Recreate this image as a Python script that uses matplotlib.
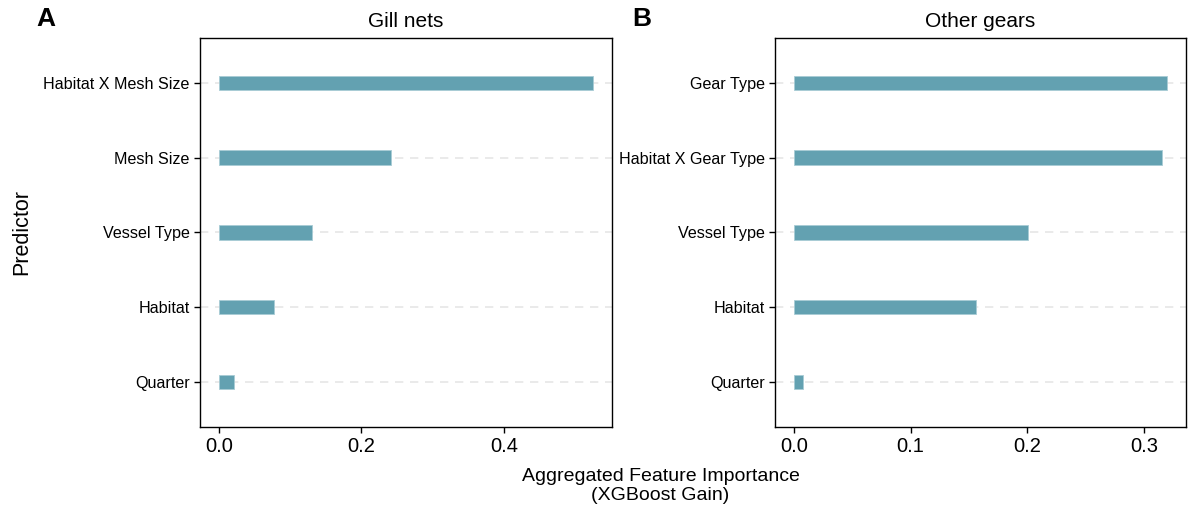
import matplotlib
matplotlib.use("Agg")
import matplotlib.pyplot as plt

# predictors listed top to bottom
gill_predictors = ["Habitat X Mesh Size", "Mesh Size", "Vessel Type", "Habitat", "Quarter"]
gill_gain = [0.525, 0.242, 0.130, 0.077, 0.021]

other_predictors = ["Gear Type", "Habitat X Gear Type", "Vessel Type", "Habitat", "Quarter"]
other_gain = [0.320, 0.315, 0.201, 0.156, 0.008]

gill_ticks = [0.0, 0.2, 0.4]
other_ticks = [0.0, 0.1, 0.2, 0.3]

BAR = "#63a1b1"

plt.rcParams["font.family"] = ["Liberation Sans", "DejaVu Sans"]

fig = plt.figure(figsize=(11.88, 5.14), dpi=100)
axA = fig.add_axes([0.1684, 0.1693, 0.3468, 0.757])
axB = fig.add_axes([0.6524, 0.1693, 0.3460, 0.757])


def panel(ax, preds, vals, ticks, title):
    n = len(preds)
    ys = list(range(n, 0, -1))
    for y in ys:
        ax.axhline(y, color="#e6e6e6", lw=1.2, ls=(0, (5, 4)), zorder=0)
    ax.barh(ys, vals, height=0.19, color=BAR, edgecolor="#a8ccd5",
            linewidth=0.6, zorder=2)
    ax.set_yticks(ys, preds, fontsize=11.6)
    ax.set_xticks(ticks, [f"{t:.1f}" for t in ticks], fontsize=14.5)
    top = max(vals)
    ax.set_xlim(-0.05 * top, top * 1.05)
    ax.set_ylim(0.4, n + 0.6)
    ax.tick_params(axis="both", length=4, width=1, color="black")
    ax.tick_params(axis="x", pad=3)
    for s in ax.spines.values():
        s.set_linewidth(1.0)
    ax.set_title(title, fontsize=15, pad=8)


panel(axA, gill_predictors, gill_gain, gill_ticks, "Gill nets")
panel(axB, other_predictors, other_gain, other_ticks, "Other gears")

axA.set_ylabel("Predictor", fontsize=15.5, labelpad=8)
fig.text(0.556, 0.055, "Aggregated Feature Importance\n(XGBoost Gain)",
         ha="center", va="center", fontsize=14, linespacing=1.15)

fig.text(0.031, 0.963, "A", fontsize=19, fontweight="bold", ha="left", va="center")
fig.text(0.532, 0.963, "B", fontsize=19, fontweight="bold", ha="left", va="center")

fig.savefig("out.png", dpi=100)
